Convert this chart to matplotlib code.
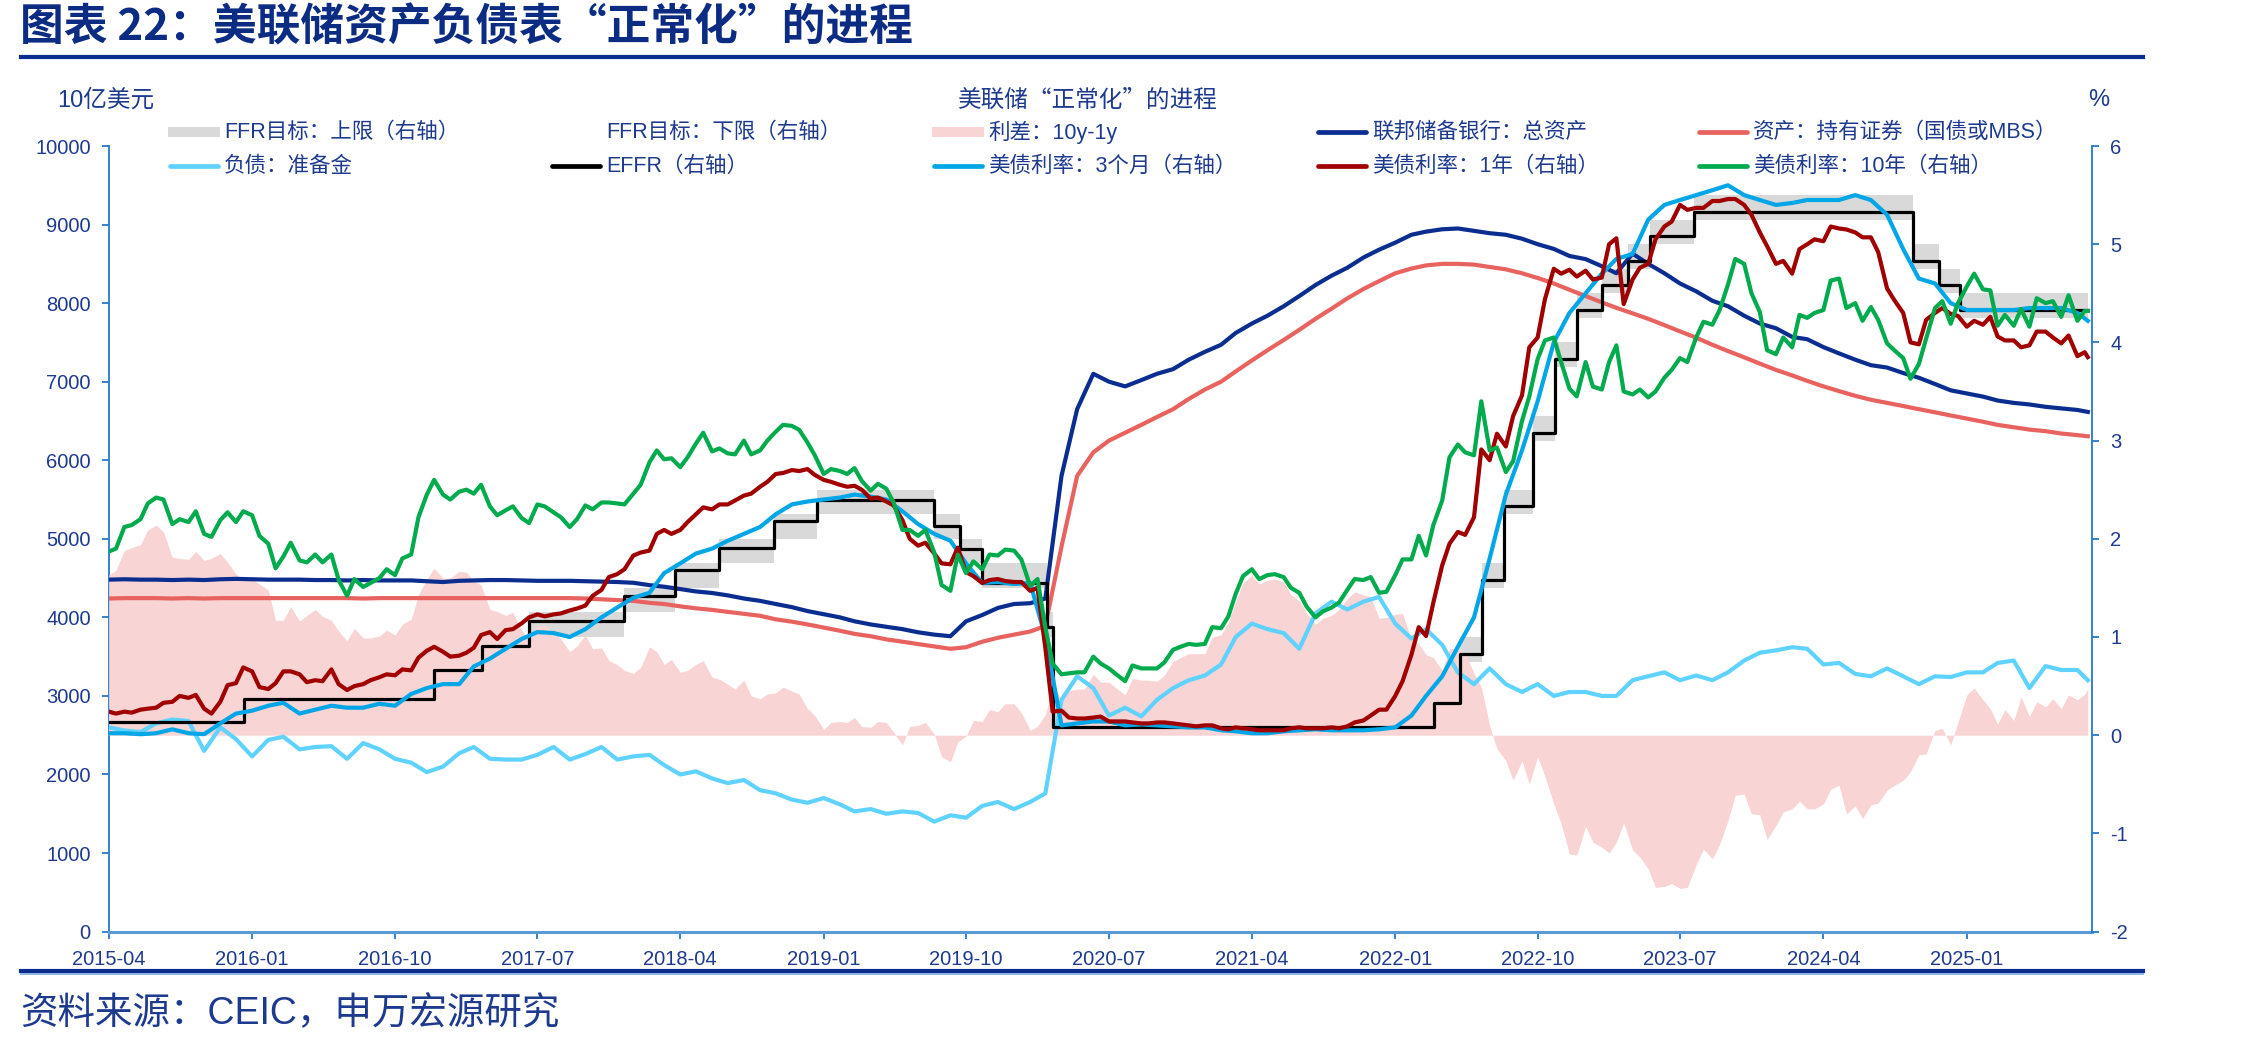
import matplotlib
matplotlib.use('Agg')
import matplotlib.pyplot as plt
import pandas as pd
from matplotlib.lines import Line2D
from matplotlib.patches import Rectangle

plt.rcParams['font.family'] = ['Liberation Sans', 'Noto Sans CJK SC']
plt.rcParams['axes.unicode_minus'] = False

# ---------------- data ----------------
# monthly observations (balance-sheet items, 3-month bill)
dates = pd.date_range('2015-04-01', '2025-08-01', freq='MS').append(pd.DatetimeIndex(['2025-08-21']))
# semi-monthly observations (1y and 10y Treasury yields)
ydates = pd.date_range('2015-04-01', '2025-08-15', freq='SMS').append(pd.DatetimeIndex(['2025-08-21']))

# 美债利率：10年 (%), semi-monthly
y10 = [1.87, 1.90, 2.12, 2.14, 2.20, 2.36, 2.42, 2.40, 2.15, 2.20, 2.17, 2.28, 2.05, 2.02, 2.19, 2.27, 2.17, 2.28,
       2.24, 2.03, 1.95, 1.70, 1.82, 1.96, 1.78, 1.76, 1.84, 1.76, 1.84, 1.58, 1.42, 1.59, 1.51, 1.55, 1.60, 1.69, 1.63, 1.80, 1.84, 2.22, 2.45, 2.60,
       2.45, 2.40, 2.48, 2.50, 2.46, 2.55, 2.33, 2.24, 2.29, 2.33, 2.21, 2.16, 2.35, 2.33, 2.27, 2.22, 2.12, 2.20, 2.34, 2.30, 2.37, 2.37, 2.36, 2.35,
       2.46, 2.55, 2.78, 2.90, 2.81, 2.82, 2.73, 2.83, 2.97, 3.08, 2.89, 2.92, 2.87, 2.86, 3.00, 2.86, 2.90, 3.00, 3.09, 3.16, 3.15, 3.11, 2.98, 2.85,
       2.66, 2.71, 2.69, 2.66, 2.72, 2.59, 2.49, 2.56, 2.51, 2.37, 2.09, 2.09, 2.03, 2.09, 1.86, 1.53, 1.47, 1.84, 1.65, 1.77, 1.69, 1.84, 1.83, 1.89,
       1.88, 1.79, 1.52, 1.59, 1.10, 0.73, 0.62, 0.63, 0.64, 0.64, 0.80, 0.73, 0.68, 0.62, 0.55, 0.71, 0.68, 0.68, 0.68, 0.74, 0.87, 0.90, 0.93, 0.92,
       0.93, 1.10, 1.09, 1.21, 1.44, 1.62, 1.69, 1.59, 1.63, 1.64, 1.61, 1.50, 1.45, 1.31, 1.20, 1.26, 1.30, 1.35, 1.48, 1.59, 1.58, 1.61, 1.45, 1.46,
       1.63, 1.79, 1.79, 2.03, 1.83, 2.14, 2.39, 2.83, 2.96, 2.88, 2.85, 3.40, 2.90, 2.93, 2.68, 2.79, 3.20, 3.45, 3.83, 4.02, 4.05, 3.80, 3.53, 3.45,
       3.80, 3.55, 3.52, 3.80, 3.97, 3.50, 3.47, 3.52, 3.44, 3.50, 3.64, 3.72, 3.84, 3.80, 4.05, 4.21, 4.18, 4.33, 4.59, 4.85, 4.80, 4.50, 4.31, 3.92,
       3.88, 4.05, 3.95, 4.28, 4.25, 4.30, 4.33, 4.63, 4.65, 4.35, 4.40, 4.22, 4.36, 4.23, 3.99, 3.92, 3.84, 3.63, 3.78, 4.04, 4.35, 4.42, 4.19, 4.40,
       4.57, 4.70, 4.54, 4.53, 4.17, 4.28, 4.17, 4.34, 4.16, 4.45, 4.40, 4.42, 4.26, 4.48, 4.22, 4.32, 4.32]

# 美债利率：1年 (%), semi-monthly
y1 = [0.24, 0.22, 0.24, 0.23, 0.26, 0.27, 0.28, 0.33, 0.34, 0.40, 0.38, 0.41, 0.27, 0.22, 0.34, 0.51, 0.53, 0.69,
      0.65, 0.49, 0.47, 0.53, 0.65, 0.65, 0.62, 0.54, 0.56, 0.55, 0.67, 0.52, 0.46, 0.50, 0.52, 0.56, 0.59, 0.62, 0.61, 0.67, 0.66, 0.79, 0.86, 0.90,
      0.85, 0.80, 0.81, 0.84, 0.89, 1.02, 1.05, 0.98, 1.07, 1.08, 1.14, 1.20, 1.23, 1.21, 1.23, 1.24, 1.27, 1.29, 1.32, 1.42, 1.48, 1.61, 1.64, 1.69,
      1.83, 1.86, 1.88, 2.05, 2.09, 2.05, 2.09, 2.17, 2.25, 2.32, 2.30, 2.35, 2.35, 2.39, 2.44, 2.46, 2.53, 2.58, 2.66, 2.67, 2.70, 2.69, 2.71, 2.65,
      2.60, 2.58, 2.55, 2.53, 2.54, 2.50, 2.41, 2.42, 2.38, 2.34, 2.19, 2.00, 1.93, 1.96, 1.85, 1.75, 1.74, 1.91, 1.66, 1.62, 1.55, 1.58, 1.59, 1.57,
      1.56, 1.56, 1.47, 1.50, 0.89, 0.24, 0.25, 0.18, 0.17, 0.17, 0.18, 0.19, 0.14, 0.14, 0.14, 0.13, 0.12, 0.12, 0.13, 0.13, 0.12, 0.11, 0.10, 0.09,
      0.10, 0.10, 0.07, 0.06, 0.08, 0.07, 0.06, 0.05, 0.05, 0.05, 0.05, 0.07, 0.08, 0.07, 0.07, 0.07, 0.08, 0.07, 0.09, 0.13, 0.15, 0.20, 0.26, 0.26,
      0.40, 0.55, 0.82, 1.10, 1.01, 1.35, 1.73, 1.95, 2.07, 2.04, 2.22, 2.91, 2.80, 3.07, 2.94, 3.25, 3.46, 3.95, 4.05, 4.44, 4.75, 4.70, 4.74, 4.67,
      4.73, 4.64, 4.66, 5.00, 5.06, 4.39, 4.64, 4.76, 4.80, 5.05, 5.18, 5.23, 5.40, 5.35, 5.37, 5.37, 5.44, 5.44, 5.46, 5.46, 5.40, 5.30, 5.12, 4.98,
      4.80, 4.83, 4.70, 4.95, 5.00, 5.05, 5.03, 5.18, 5.16, 5.15, 5.12, 5.07, 5.07, 4.92, 4.55, 4.43, 4.30, 4.00, 3.98, 4.23, 4.30, 4.35, 4.29, 4.27,
      4.16, 4.22, 4.18, 4.26, 4.06, 4.02, 4.02, 3.95, 3.97, 4.11, 4.11, 4.05, 3.99, 4.07, 3.86, 3.90, 3.85]

# 美债利率：3个月 (%), monthly
y3m = [0.02, 0.02, 0.01, 0.02, 0.06, 0.02, 0.01, 0.12, 0.22,
       0.25, 0.30, 0.33, 0.22, 0.26, 0.30, 0.28, 0.28, 0.32, 0.30, 0.42, 0.48,
       0.52, 0.52, 0.70, 0.78, 0.88, 0.98, 1.05, 1.04, 1.00, 1.08, 1.20, 1.30,
       1.40, 1.45, 1.65, 1.75, 1.85, 1.90, 1.98, 2.05, 2.12, 2.25, 2.35, 2.38,
       2.40, 2.42, 2.45, 2.43, 2.40, 2.28, 2.15, 2.05, 1.98, 1.75, 1.55, 1.56,
       1.54, 1.55, 1.00, 0.10, 0.12, 0.14, 0.14, 0.10, 0.11, 0.10, 0.09, 0.08,
       0.08, 0.05, 0.04, 0.02, 0.02, 0.04, 0.05, 0.06, 0.05, 0.05, 0.05, 0.06,
       0.08, 0.20, 0.40, 0.60, 0.90, 1.20, 1.80, 2.45, 2.90, 3.40, 4.00, 4.30,
       4.50, 4.70, 4.85, 4.90, 5.25, 5.40, 5.45, 5.50, 5.55, 5.60, 5.50, 5.45,
       5.40, 5.42, 5.45, 5.45, 5.45, 5.50, 5.45, 5.30, 4.95, 4.65, 4.60, 4.40,
       4.33, 4.33, 4.33, 4.33, 4.35, 4.35, 4.35, 4.30, 4.22]

# 联邦储备银行：总资产 (10亿美元), monthly
total_assets = [4480, 4485, 4480, 4480, 4475, 4480, 4475, 4485, 4490,
                4485, 4480, 4480, 4480, 4475, 4475, 4470, 4475, 4470, 4470, 4470, 4460,
                4450, 4465, 4470, 4475, 4475, 4470, 4465, 4465, 4465, 4460, 4455, 4450,
                4440, 4410, 4390, 4360, 4330, 4310, 4280, 4240, 4210, 4170, 4130, 4080,
                4040, 4000, 3950, 3910, 3880, 3850, 3810, 3780, 3760, 3950, 4030, 4120,
                4170, 4180, 4240, 5800, 6650, 7100, 7000, 6940, 7020, 7100, 7160, 7280,
                7380, 7470, 7620, 7740, 7840, 7960, 8090, 8230, 8350, 8450, 8580, 8680,
                8770, 8870, 8910, 8940, 8950, 8920, 8890, 8870, 8820, 8750, 8690, 8600,
                8560, 8470, 8380, 8630, 8500, 8380, 8250, 8150, 8030, 7960, 7840, 7740,
                7680, 7570, 7540, 7440, 7360, 7280, 7210, 7180, 7110, 7050, 6970, 6890,
                6850, 6810, 6760, 6730, 6710, 6680, 6660, 6640, 6615]

# 资产：持有证券（国债或MBS） (10亿美元), monthly
securities = [4240, 4245, 4245, 4245, 4240, 4245, 4240, 4245, 4245,
              4245, 4245, 4245, 4245, 4245, 4245, 4245, 4240, 4245, 4245, 4245, 4245,
              4245, 4245, 4245, 4245, 4245, 4245, 4245, 4245, 4245, 4240, 4230, 4220,
              4210, 4185, 4170, 4140, 4115, 4095, 4070, 4045, 4020, 3975, 3945, 3910,
              3870, 3830, 3790, 3760, 3720, 3690, 3660, 3630, 3600, 3620, 3690, 3740,
              3780, 3820, 3890, 4900, 5800, 6100, 6250, 6350, 6450, 6550, 6650, 6780,
              6900, 7000, 7130, 7270, 7400, 7530, 7660, 7800, 7930, 8060, 8180, 8280,
              8380, 8440, 8480, 8500, 8500, 8490, 8460, 8430, 8380, 8320, 8250, 8170,
              8090, 8010, 7940, 7870, 7800, 7720, 7640, 7560, 7470, 7390, 7310, 7230,
              7150, 7080, 7010, 6940, 6880, 6820, 6770, 6730, 6690, 6650, 6610, 6570,
              6530, 6490, 6450, 6420, 6390, 6370, 6340, 6320, 6305]

# 负债：准备金 (10亿美元), monthly
reserves = [2600, 2560, 2540, 2650, 2700, 2680, 2300, 2600, 2450,
            2230, 2440, 2480, 2320, 2350, 2360, 2200, 2400, 2320, 2200, 2150, 2030,
            2100, 2270, 2350, 2200, 2190, 2190, 2250, 2350, 2190, 2260, 2350, 2190,
            2230, 2250, 2120, 2000, 2040, 1950, 1890, 1930, 1800, 1760, 1680, 1640,
            1700, 1620, 1530, 1560, 1500, 1530, 1510, 1400, 1480, 1450, 1600, 1650,
            1560, 1650, 1760, 2950, 3250, 3100, 2750, 2850, 2740, 2950, 3100, 3200,
            3260, 3400, 3750, 3920, 3850, 3800, 3600, 4050, 4200, 4100, 4200, 4260,
            3920, 3730, 3850, 3650, 3300, 3150, 3350, 3150, 3050, 3150, 3000, 3050,
            3050, 3000, 3000, 3200, 3250, 3300, 3200, 3260, 3200, 3300, 3450, 3550,
            3580, 3620, 3600, 3400, 3420, 3280, 3250, 3350, 3250, 3150, 3250, 3240,
            3300, 3300, 3420, 3450, 3100, 3380, 3330, 3330, 3200]

# FFR 目标区间与 EFFR (%)
ffr_dates = pd.to_datetime([
    '2015-04-01', '2015-12-17', '2016-12-15', '2017-03-16', '2017-06-15', '2017-12-14',
    '2018-03-22', '2018-06-14', '2018-09-27', '2018-12-20', '2019-08-01', '2019-09-19',
    '2019-10-31', '2020-03-04', '2020-03-16', '2022-03-17', '2022-05-05', '2022-06-16',
    '2022-07-28', '2022-09-22', '2022-11-03', '2022-12-15', '2023-02-02', '2023-03-23',
    '2023-05-04', '2023-07-27', '2024-09-19', '2024-11-08', '2024-12-19', '2025-08-21'])
ffr_lower = [0.00, 0.25, 0.50, 0.75, 1.00, 1.25, 1.50, 1.75, 2.00, 2.25, 2.00, 1.75,
             1.50, 1.00, 0.00, 0.25, 0.75, 1.50, 2.25, 3.00, 3.75, 4.25, 4.50, 4.75,
             5.00, 5.25, 4.75, 4.50, 4.25, 4.25]
ffr_upper = [0.25, 0.50, 0.75, 1.00, 1.25, 1.50, 1.75, 2.00, 2.25, 2.50, 2.25, 2.00,
             1.75, 1.25, 0.25, 0.50, 1.00, 1.75, 2.50, 3.25, 4.00, 4.50, 4.75, 5.00,
             5.25, 5.50, 5.00, 4.75, 4.50, 4.50]
effr = [0.13, 0.37, 0.66, 0.91, 1.16, 1.42, 1.68, 1.91, 2.18, 2.40, 2.13, 1.90,
        1.55, 1.10, 0.08, 0.33, 0.83, 1.58, 2.33, 3.08, 3.83, 4.33, 4.58, 4.83,
        5.08, 5.33, 4.83, 4.58, 4.33, 4.33]

# 利差：10y-1y
spread = [a - b for a, b in zip(y10, y1)]

xtick_labels = ['2015-04', '2016-01', '2016-10', '2017-07', '2018-04', '2019-01', '2019-10',
                '2020-07', '2021-04', '2022-01', '2022-10', '2023-07', '2024-04', '2025-01']

legend_labels = [
    ['FFR目标：上限（右轴）', 'FFR目标：下限（右轴）', '利差：10y-1y',
     '联邦储备银行：总资产', '资产：持有证券（国债或MBS）'],
    ['负债：准备金', 'EFFR（右轴）', '美债利率：3个月（右轴）',
     '美债利率：1年（右轴）', '美债利率：10年（右轴）']]

# ---------------- style ----------------
W, H = 2244, 1047
NAVY_TXT = '#1d3a8f'
TITLE_C = '#0c2c84'
SPINE_C = '#2677cc'
C_GRAY = '#d9d9d9'
C_PINK = '#f8d4d4'
C_ASSET = '#0a2d8f'
C_SEC = '#e8625f'
C_RES = '#5fd2ff'
C_EFFR = '#000000'
C_3M = '#00a6e6'
C_1Y = '#a00000'
C_10Y = '#00ab4e'

fig = plt.figure(figsize=(W / 100, H / 100), dpi=100)
ax = fig.add_axes([108.7 / W, 1 - 931.6 / H, (2092 - 108.7) / W, (931.6 - 146) / H])
ax2 = ax.twinx()

x0 = pd.Timestamp('2015-04-01')
x1 = pd.Timestamp('2025-08-29')

# right-axis layers
ax2.fill_between(ffr_dates, ffr_lower, ffr_upper, step='post', color=C_GRAY, lw=0, zorder=1)
ax2.fill_between(ydates, spread, 0, color=C_PINK, lw=0, zorder=2)
# left-axis series drawn in the same layer stack, on the left-axis scale
ax2.plot(dates, total_assets, color=C_ASSET, lw=3.0, transform=ax.transData, zorder=3)
ax2.plot(dates, securities, color=C_SEC, lw=3.0, transform=ax.transData, zorder=3.1)
ax2.plot(dates, reserves, color=C_RES, lw=3.0, transform=ax.transData, zorder=3.2)
ax2.step(ffr_dates, effr, where='post', color=C_EFFR, lw=2.3, zorder=4)
ax2.plot(dates, y3m, color=C_3M, lw=3.0, zorder=4.1)
ax2.plot(ydates, y1, color=C_1Y, lw=3.0, zorder=4.2)
ax2.plot(ydates, y10, color=C_10Y, lw=3.0, zorder=4.3)

ax.set_xlim(x0, x1)
ax.set_ylim(0, 10000)
ax2.set_ylim(-2, 6)
ax.set_yticks(range(0, 10001, 1000))
ax2.set_yticks(range(-2, 7))
ax.set_xticks(pd.to_datetime([s + '-01' for s in xtick_labels]))
ax.set_xticklabels(xtick_labels)

for a in (ax, ax2):
    for s in a.spines.values():
        s.set_visible(False)
ax.spines['left'].set_visible(True)
ax.spines['left'].set_color(SPINE_C)
ax.spines['left'].set_linewidth(1.3)
ax.spines['bottom'].set_visible(True)
ax.spines['bottom'].set_color('#5b9bd5')
ax.spines['bottom'].set_linewidth(2.2)
ax2.spines['right'].set_visible(True)
ax2.spines['right'].set_color(SPINE_C)
ax2.spines['right'].set_linewidth(1.3)

for a, axis in ((ax, 'y'), (ax, 'x'), (ax2, 'y')):
    a.tick_params(axis=axis, colors=SPINE_C, labelcolor=NAVY_TXT, labelsize=14.5,
                  length=5, width=1.3, pad=8)
ax.grid(False)
ax2.grid(False)


def fx(px):
    return px / W


def fy(py):
    return 1 - py / H


# title and frame lines
fig.text(fx(20), fy(28), '图表 22：美联储资产负债表“正常化”的进程', fontsize=31.5,
         fontweight='bold', color=TITLE_C, va='center', ha='left',
         family=['Noto Sans CJK SC'])
fig.add_artist(Line2D([fx(21), fx(2143)], [fy(57), fy(57)], lw=3.0, color='#0a2d8f',
                      transform=fig.transFigure))
fig.add_artist(Line2D([fx(21), fx(2143)], [fy(970.5), fy(970.5)], lw=3.0, color='#0a2d8f',
                      transform=fig.transFigure))
fig.add_artist(Line2D([fx(21), fx(2143)], [fy(974), fy(974)], lw=1.4, color='#8fb4e3',
                      transform=fig.transFigure))
fig.text(fx(20), fy(1014), '资料来源：CEIC，申万宏源研究', fontsize=27, color=NAVY_TXT,
         va='center', ha='left')

# axis captions
fig.text(fx(57), fy(100), '10亿美元', fontsize=17, color=NAVY_TXT, va='center', ha='left')
fig.text(fx(1088), fy(100), '美联储“正常化”的进程', fontsize=17, color=NAVY_TXT,
         va='center', ha='center', family=['Noto Sans CJK SC'])
fig.text(fx(2099), fy(100), '%', fontsize=17, color=NAVY_TXT, va='center', ha='center')

# legend (manual)
col_x = [168, 550, 932, 1316, 1697]
row_y = [132, 166]
styles = [
    [('box', C_GRAY), (None, None), ('box', C_PINK), ('line', C_ASSET), ('line', C_SEC)],
    [('line', C_RES), ('line', C_EFFR), ('line', C_3M), ('line', C_1Y), ('line', C_10Y)]]
for r in range(2):
    for c in range(5):
        kind, col = styles[r][c]
        x = col_x[c]
        y = row_y[r]
        if kind == 'box':
            fig.add_artist(Rectangle((fx(x), fy(y + 5)), 52 / W, 10 / H, color=col, lw=0,
                                     transform=fig.transFigure))
        elif kind == 'line':
            fig.add_artist(Line2D([fx(x + 2), fx(x + 50)], [fy(y), fy(y)], lw=3.4, color=col,
                                  solid_capstyle='round', transform=fig.transFigure))
        fig.text(fx(x + 56), fy(y), legend_labels[r][c], fontsize=15.5, color=NAVY_TXT,
                 va='center', ha='left')

fig.savefig('out.png', dpi=100)
